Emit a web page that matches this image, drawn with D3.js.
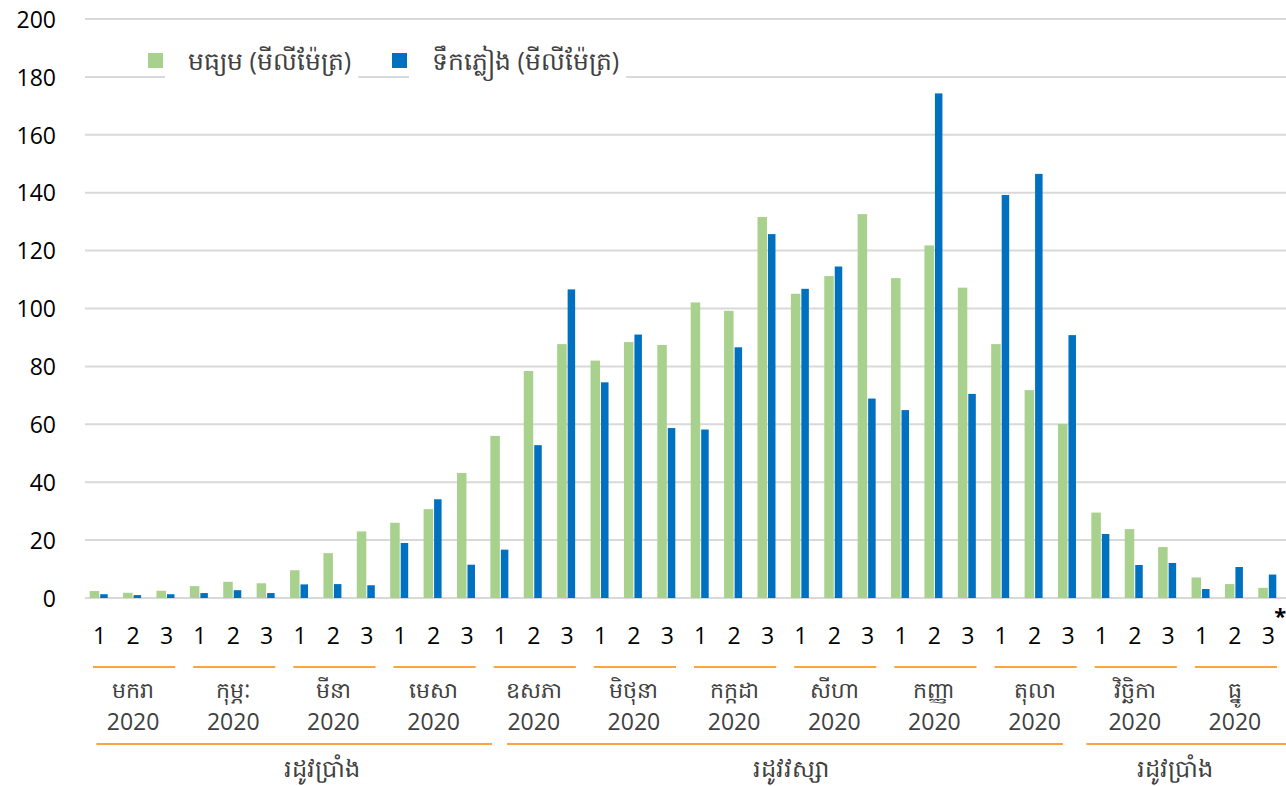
<!DOCTYPE html>
<html>
<head>
<meta charset="utf-8">
<script src="https://cdn.jsdelivr.net/npm/d3@7"></script>
<style>
body { margin: 0; background: #fff; }
#chart { width: 1286px; height: 786px; }
text { font-family: "Open Sans", "Noto Sans", sans-serif; }
</style>
</head>
<body>
<div id="chart"></div>
<script>
// data
var months = ["មករា", "កុម្ភៈ", "មីនា", "មេសា", "ឧសភា", "មិថុនា", "កក្កដា", "សីហា", "កញ្ញា", "តុលា", "វិច្ឆិកា", "ធ្នូ"];
var year = "2020";
var dekads = ["1", "2", "3"];
var seasons = ["រដូវប្រាំង", "រដូវវស្សា", "រដូវប្រាំង"];
var seasonMonths = [[0, 3], [4, 9], [10, 11]];
var seriesNames = ["មធ្យម (មីលីម៉ែត្រ)", "ទឹកភ្លៀង (មីលីម៉ែត្រ)"];

var average = [2.4, 1.8, 2.5, 4.1, 5.6, 5.1, 9.6, 15.5, 23.0, 26.0, 30.7, 43.2,
	56.0, 78.4, 87.7, 82.0, 88.4, 87.4, 102.1, 99.2, 131.6, 105.1, 111.2, 132.6,
	110.5, 121.8, 107.2, 87.7, 71.8, 60.1, 29.5, 23.8, 17.6, 7.1, 4.8, 3.5];
var rainfall = [1.3, 1.0, 1.3, 1.7, 2.7, 1.7, 4.7, 4.8, 4.4, 19.0, 34.1, 11.5,
	16.7, 52.8, 106.6, 74.5, 91.0, 58.7, 58.2, 86.6, 125.7, 106.8, 114.5, 68.9,
	64.9, 174.3, 70.5, 139.2, 146.5, 90.8, 22.1, 11.4, 12.1, 3.1, 10.7, 8.1];
var yTicks = [0, 20, 40, 60, 80, 100, 120, 140, 160, 180, 200];

var colors = { avg: "#a9d18e", rain: "#0070c0", grid: "#d9d9d9", orange: "#f9a43e", label: "#404040" };

var totalWidth = 1286, totalHeight = 786;
var plot = { left: 83, right: 1285, top: 19, bottom: 598 };
// season bracket layout, in category units (excel places them a bit unevenly)
var seasonLayout = [
	{ from: 0.4, to: 12.25, label: 7.15 },
	{ from: 12.7, to: 29.35, label: 21.2 },
	{ from: 30.05, to: 36.2, label: 32.7 }
];

var svg = d3.select("#chart").append("svg")
	.attr("width", totalWidth)
	.attr("height", totalHeight);

var idx = d3.range(average.length);

var xScale = d3.scaleBand()
	.domain(idx)
	.range([plot.left, plot.right])
	.padding(0);

var yScale = d3.scaleLinear()
	.domain([0, 200])
	.range([plot.bottom, plot.top]);

var step = xScale.step();
var catX = function (u) { return plot.left + u * step; };

// gridlines
svg.append("g").selectAll("line")
	.data(yTicks)
	.enter().append("line")
	.attr("x1", plot.left + 2)
	.attr("x2", totalWidth)
	.attr("y1", d => yScale(d))
	.attr("y2", d => yScale(d))
	.attr("stroke", colors.grid)
	.attr("stroke-width", 2);

// y labels
var yAxis = d3.axisLeft(yScale).tickValues(yTicks).tickSize(0).tickPadding(0);
var yAxisGroup = svg.append("g")
	.attr("transform", "translate(56,0)")
	.call(yAxis);
yAxisGroup.select(".domain").remove();
yAxisGroup.selectAll(".tick text")
	.attr("font-size", 23)
	.attr("font-family", "'Liberation Sans', Arial, sans-serif")
	.attr("fill", "#000")
	.attr("dy", "0.36em");

// bars
var centre = function (i) { return xScale(i) + xScale.bandwidth() / 2; };

svg.append("g").selectAll("rect")
	.data(idx)
	.enter().append("rect")
	.attr("x", i => centre(i) - 10)
	.attr("width", 9.5)
	.attr("y", i => yScale(average[i]))
	.attr("height", i => yScale(0) - yScale(average[i]))
	.attr("fill", colors.avg);

svg.append("g").selectAll("rect")
	.data(idx)
	.enter().append("rect")
	.attr("x", i => centre(i) + 0.5)
	.attr("width", 7.5)
	.attr("y", i => yScale(rainfall[i]))
	.attr("height", i => yScale(0) - yScale(rainfall[i]))
	.attr("fill", colors.rain);

// x tick labels (dekads)
svg.append("g").selectAll("text")
	.data(idx)
	.enter().append("text")
	.attr("x", i => centre(i))
	.attr("y", 644)
	.attr("text-anchor", "middle")
	.attr("font-size", 23)
	.attr("fill", "#000")
	.text(i => dekads[i % 3]);

svg.append("text")
	.attr("x", centre(idx.length - 1) + 6)
	.attr("y", 624)
	.attr("font-size", 22)
	.attr("font-weight", "bold")
	.attr("font-family", "'Liberation Sans', Arial, sans-serif")
	.attr("fill", "#000")
	.text("*");

// months
var monthGroup = svg.append("g");
months.forEach(function (m, k) {
	var x0 = xScale(k * 3), x1 = x0 + step * 3;
	monthGroup.append("line")
		.attr("x1", x0 + 10).attr("x2", x1 - 8)
		.attr("y1", 667).attr("y2", 667)
		.attr("stroke", colors.orange).attr("stroke-width", 2);
	monthGroup.append("text")
		.attr("x", (x0 + x1) / 2).attr("y", 698)
		.attr("text-anchor", "middle")
		.attr("font-size", 22)
		.attr("fill", colors.label)
		.text(m);
	monthGroup.append("text")
		.attr("x", (x0 + x1) / 2).attr("y", 730)
		.attr("text-anchor", "middle")
		.attr("font-size", 23)
		.attr("font-family", "'Liberation Sans', Arial, sans-serif")
		.attr("fill", colors.label)
		.text(year);
});

// seasons
var seasonGroup = svg.append("g");
seasons.forEach(function (s, k) {
	var lay = seasonLayout[k];
	seasonGroup.append("line")
		.attr("x1", catX(lay.from)).attr("x2", Math.min(catX(lay.to), totalWidth))
		.attr("y1", 744).attr("y2", 744)
		.attr("stroke", colors.orange).attr("stroke-width", 2);
	seasonGroup.append("text")
		.attr("x", catX(lay.label)).attr("y", 777)
		.attr("text-anchor", "middle")
		.attr("font-size", 24)
		.attr("fill", colors.label)
		.text(s);
});

// legend
var legend = svg.append("g");
var legendItems = [
	{ name: seriesNames[0], color: colors.avg, x: 148 },
	{ name: seriesNames[1], color: colors.rain, x: 392 }
];
legendItems.forEach(function (d) {
	var g = legend.append("g").attr("transform", "translate(" + d.x + ",0)");
	var t = g.append("text")
		.attr("x", 40).attr("y", 70)
		.attr("font-size", 25)
		.attr("fill", colors.label)
		.text(d.name);
	var w = t.node().getComputedTextLength();
	g.insert("rect", "text")
		.attr("x", 17).attr("y", 40)
		.attr("width", w + 30).attr("height", 45)
		.attr("fill", "#fff");
	g.append("rect")
		.attr("x", 0).attr("y", 53)
		.attr("width", 15).attr("height", 15)
		.attr("fill", d.color);
});
</script>
</body>
</html>
